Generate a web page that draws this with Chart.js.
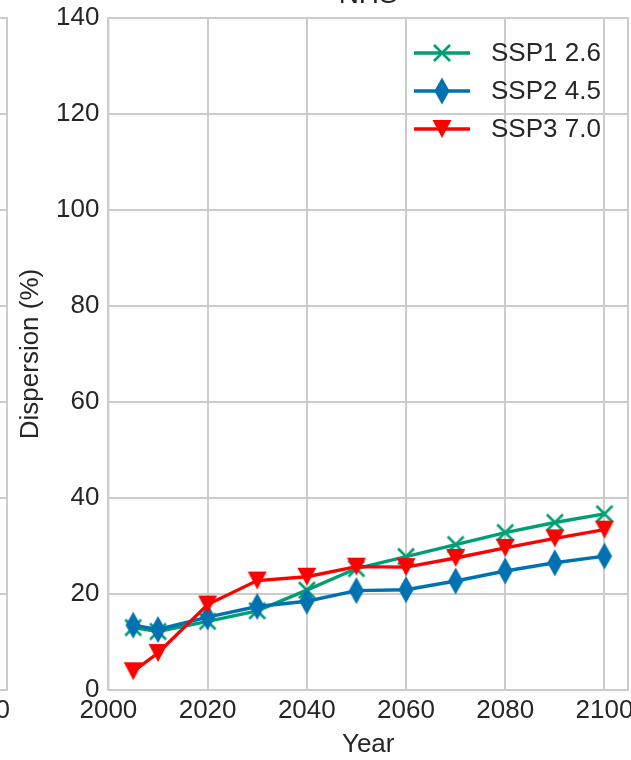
<!DOCTYPE html>
<html>
<head>
<meta charset="utf-8">
<script src="https://cdn.jsdelivr.net/npm/chart.js@4/dist/chart.umd.min.js"></script>
<style>
  html, body { margin: 0; padding: 0; background: #fff; }
  #wrap { width: 631px; height: 760px; }
</style>
</head>
<body>
<div id="wrap"><canvas id="chart" width="631" height="760"></canvas></div>
<script>
const years = [2005, 2010, 2020, 2030, 2040, 2050, 2060, 2070, 2080, 2090, 2100];
const ssp126 = [13.0, 12.2, 14.3, 16.5, 20.8, 25.3, 27.8, 30.3, 32.8, 34.9, 36.7];
const ssp245 = [13.5, 12.6, 15.2, 17.4, 18.5, 20.7, 20.9, 22.7, 24.8, 26.5, 27.9];
const ssp370 = [3.9, 7.7, 17.8, 22.8, 23.6, 25.7, 25.6, 27.5, 29.6, 31.6, 33.4];
const xTicks = [2000, 2020, 2040, 2060, 2080, 2100];
const yTicks = [0, 20, 40, 60, 80, 100, 120, 140];

const textColor = "#262626";
const gridColor = "#cccccc";
const fontFamily = "'Liberation Sans', Arial, sans-serif";
const fontSize = 26;

// matplotlib-like markers as small canvases
function marker(kind, color) {
  const c = document.createElement("canvas");
  const g = c.getContext("2d");
  if (kind === "x") {
    c.width = 20; c.height = 20;
    g.strokeStyle = color;
    g.lineWidth = 2.6;
    g.beginPath();
    g.moveTo(2, 2); g.lineTo(18, 18);
    g.moveTo(18, 2); g.lineTo(2, 18);
    g.stroke();
  } else if (kind === "d") {
    c.width = 18; c.height = 30;
    g.fillStyle = color;
    g.beginPath();
    g.moveTo(9, 1.5); g.lineTo(16.6, 15); g.lineTo(9, 28.5); g.lineTo(1.4, 15);
    g.closePath();
    g.fill();
  } else {
    c.width = 22; c.height = 22;
    g.fillStyle = color;
    g.beginPath();
    g.moveTo(1.5, 2); g.lineTo(20.5, 2); g.lineTo(11, 20);
    g.closePath();
    g.fill();
  }
  return c;
}

function series(label, values, color, kind, order) {
  return {
    label,
    data: years.map((y, i) => ({ x: y, y: values[i] })),
    borderColor: color,
    backgroundColor: color,
    borderWidth: 3.4,
    pointStyle: marker(kind, color),
    pointRadius: 8,
    tension: 0,
    order
  };
}

const datasets = [
  series("SSP1 2.6", ssp126, "#009E73", "x", 3),
  series("SSP2 4.5", ssp245, "#0072B2", "d", 2),
  series("SSP3 7.0", ssp370, "#ff0000", "v", 1)
];

// frame, cut-off neighbours (left panel and title) and the legend
const decor = {
  id: "decor",
  beforeDatasetsDraw(chart) {
    const { ctx, chartArea: a } = chart;
    ctx.save();
    ctx.strokeStyle = gridColor;
    ctx.lineWidth = 2;
    ctx.strokeRect(a.left, a.top, a.right - a.left, a.bottom - a.top);
    // right edge of the neighbouring panel
    const y = chart.scales.y;
    ctx.beginPath();
    yTicks.forEach(v => {
      const py = Math.round(y.getPixelForValue(v));
      ctx.moveTo(0, py); ctx.lineTo(7, py);
    });
    ctx.moveTo(7, a.top - 1); ctx.lineTo(7, a.bottom + 1);
    ctx.stroke();
    ctx.restore();
  },
  afterDraw(chart) {
    const { ctx, chartArea: a } = chart;
    ctx.save();
    ctx.fillStyle = textColor;
    ctx.font = fontSize + "px " + fontFamily;
    ctx.textAlign = "right";
    ctx.textBaseline = "middle";
    ctx.fillText("2100", 10, 711);
    ctx.textAlign = "center";
    ctx.textBaseline = "alphabetic";
    ctx.font = "28px " + fontFamily;
    ctx.fillText("NHS", (a.left + a.right) / 2, 3);

    // legend
    ctx.font = fontSize + "px " + fontFamily;
    ctx.textAlign = "left";
    ctx.textBaseline = "middle";
    chart.data.datasets.forEach((ds, i) => {
      const ly = 53 + i * 38;
      ctx.strokeStyle = ds.borderColor;
      ctx.lineWidth = 3.4;
      ctx.beginPath();
      ctx.moveTo(414, ly); ctx.lineTo(470, ly);
      ctx.stroke();
      const m = ds.pointStyle;
      ctx.drawImage(m, 442 - m.width / 2, ly - m.height / 2);
      ctx.fillStyle = textColor;
      ctx.fillText(ds.label, 491, ly + 1);
    });
    ctx.restore();
  }
};

new Chart(document.getElementById("chart"), {
  type: "line",
  data: { datasets },
  options: {
    responsive: false,
    animation: false,
    events: [],
    layout: { autoPadding: false, padding: { top: 18, right: 3, left: 0, bottom: 0 } },
    plugins: { legend: { display: false }, tooltip: { enabled: false } },
    scales: {
      x: {
        type: "linear",
        min: 2000,
        max: 2104.75,
        afterBuildTicks: s => { s.ticks = xTicks.map(v => ({ value: v })); },
        afterFit: s => { s.height = 70; s.paddingLeft = 0; s.paddingRight = 0; },
        grid: { color: gridColor, lineWidth: 2, drawTicks: false },
        border: { display: false },
        ticks: {
          padding: 5,
          color: textColor,
          font: { family: fontFamily, size: fontSize },
          maxRotation: 0,
          callback: v => String(v)
        },
        title: {
          display: true,
          text: "Year",
          color: textColor,
          font: { family: fontFamily, size: fontSize },
          padding: { top: 0, bottom: 0 }
        }
      },
      y: {
        min: 0,
        max: 140,
        afterBuildTicks: s => { s.ticks = yTicks.map(v => ({ value: v })); },
        afterFit: s => { s.width = 108.4; s.paddingTop = 0; s.paddingBottom = 0; },
        grid: { color: gridColor, lineWidth: 2, drawTicks: false },
        border: { display: false },
        ticks: {
          padding: 9,
          color: textColor,
          font: { family: fontFamily, size: fontSize }
        },
        title: {
          display: true,
          text: "Dispersion (%)",
          color: textColor,
          font: { family: fontFamily, size: fontSize },
          padding: { top: 15, bottom: 0 }
        }
      }
    }
  },
  plugins: [decor]
});
</script>
</body>
</html>
